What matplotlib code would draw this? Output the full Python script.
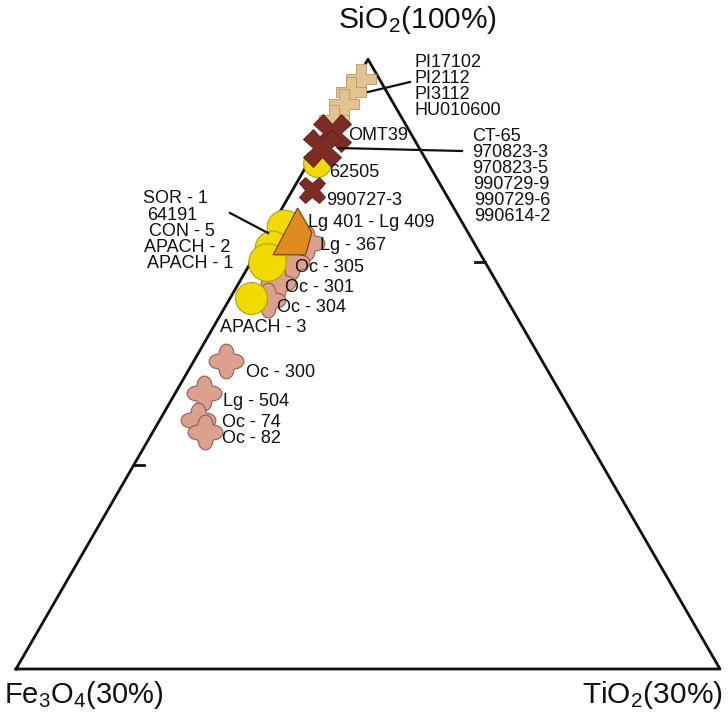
import numpy as np
from matplotlib import pyplot as plt

plt.rcParams['font.family'] = ['Liberation Sans', 'DejaVu Sans']
plt.rcParams['mathtext.fontset'] = 'custom'
plt.rcParams['mathtext.rm'] = 'Liberation Sans'
plt.rcParams['mathtext.it'] = 'Liberation Sans'

# ternary data: SiO2 and TiO2 (normalised %), Fe3O4 is the rest
tan_sio2 = [96.8, 94.6, 92.6, 90.0]
tan_tio2 = [0.6, 0.3, 0.3, 0.2]

red_sio2 = [87.9, 85.4, 78.5]
red_tio2 = [1.0, 0.8, 2.8]
red_size = [27, 27, 19]

yel_sio2 = [83.0, 72.5, 69.0, 66.8, 60.8]
yel_tio2 = [1.3, 1.8, 1.9, 2.2, 3.0]
yel_size = [20, 25, 25, 27, 23]

ora_sio2 = [70.7]
ora_tio2 = [3.9]

pink_sio2 = [69.8, 66.7, 63.3, 60.5, 50.5, 45.3, 40.8, 38.9]
pink_tio2 = [6.4, 5.8, 5.6, 5.6, 4.6, 4.1, 5.4, 7.4]

# label texts with pixel anchors (left, centre)
labels = [
    ('PI17102', 415, 62), ('PI2112', 415, 78), ('PI3112', 415, 94), ('HU010600', 415, 110),
    ('OMT39', 348, 135),
    ('CT-65', 472, 136), ('970823-3', 472, 152), ('970823-5', 472, 168),
    ('990729-9', 473, 184), ('990729-6', 474, 200), ('990614-2', 474, 216),
    ('62505', 329, 172), ('990727-3', 326, 200), ('Lg 401 - Lg 409', 308, 222),
    ('Lg - 367', 320, 245), ('Oc - 305', 295, 267), ('Oc - 301', 285, 287),
    ('Oc - 304', 277, 307), ('APACH - 3', 220, 327),
    ('SOR - 1', 143, 198), ('64191', 147, 215), ('CON - 5', 149, 231),
    ('APACH - 2', 144, 247), ('APACH - 1', 147, 263),
    ('Oc - 300', 246, 372), ('Lg - 504', 223, 401), ('Oc - 74', 222, 422), ('Oc - 82', 222, 438),
]


def tern(sio2, tio2):
    t = np.array(sio2) / 100.0
    r = np.array(tio2) / 100.0
    return r + t / 2, t * np.sqrt(3) / 2


def P(px, py):
    return (px - 16) / 704.0, (669 - py) / 704.0


# four lobed star marker
th = np.linspace(0, 2 * np.pi, 121)
rr = 0.62 + 0.38 * np.abs(np.cos(2 * th)) ** 1.3
star = list(zip(rr * np.cos(th), rr * np.sin(th)))
# irregular triangle marker
tri = [(5, 30), (19, 6), (13, -16), (-19, -16), (5, 30)]

fig = plt.figure(figsize=(7.28, 7.17), dpi=100)
ax = fig.add_axes([0, 0, 1, 1])
ax.set_xlim(-16 / 704, 712 / 704)
ax.set_ylim((669 - 717) / 704, 669 / 704)
ax.axis('off')

# triangle frame
h = np.sqrt(3) / 2
ax.plot([0, 1, 0.5, 0], [0, 0, h, 0], color='#111111', lw=2, zorder=1)
tl = 0.335
ax.plot([tl / 2, tl / 2 + 0.014], [tl * h, tl * h], color='#111111', lw=2)
tr = 0.668
ax.plot([1 - tr / 2, 1 - tr / 2 - 0.014], [tr * h, tr * h], color='#111111', lw=2)

# markers
x, y = tern(pink_sio2, pink_tio2)
ax.plot(x, y, ls='none', marker=star, ms=25, mfc='#dca08e', mec='#8f5f52', mew=0.8, zorder=3)

x, y = tern(yel_sio2, yel_tio2)
for xi, yi, s in zip(x, y, yel_size):
    ax.plot(xi, yi, 'o', ms=s, mfc='#f0da00', mec='#b5a400', mew=0.8, zorder=4)

x, y = tern(ora_sio2, ora_tio2)
ax.plot(x, y, ls='none', marker=tri, ms=44, mfc='#df8a1c', mec='#6a3a10', mew=0.8, zorder=5)

x, y = tern(tan_sio2, tan_tio2)
ax.plot(x, y, ls='none', marker='P', ms=21, mfc='#e3c490', mec='#b8996a', mew=0.6, zorder=5)

x, y = tern(red_sio2, red_tio2)
for xi, yi, s in zip(x, y, red_size):
    ax.plot(xi, yi, marker='X', ms=s, mfc='#7d2b25', mec='#5e1d18', mew=0.6, zorder=6)

# leader lines
for a, b in [((368, 92), (410, 82)), ((338, 148), (462, 151)), ((230, 213), (268, 233))]:
    p1, p2 = P(*a), P(*b)
    ax.plot([p1[0], p2[0]], [p1[1], p2[1]], color='#111111', lw=1.6, zorder=7)

for s, px, py in labels:
    ax.text(*P(px, py), s, fontsize=13, ha='left', va='center', color='#111111', zorder=8)

# vertex titles
ax.text(*P(338, 20), 'SiO$_2$(100%)', fontsize=21.5, ha='left', va='center', color='#111111')
ax.text(*P(4, 695), 'Fe$_3$O$_4$(30%)', fontsize=21, ha='left', va='center', color='#111111')
ax.text(*P(723, 695), 'TiO$_2$(30%)', fontsize=21.5, ha='right', va='center', color='#111111')

fig.savefig('out.png', dpi=100)
